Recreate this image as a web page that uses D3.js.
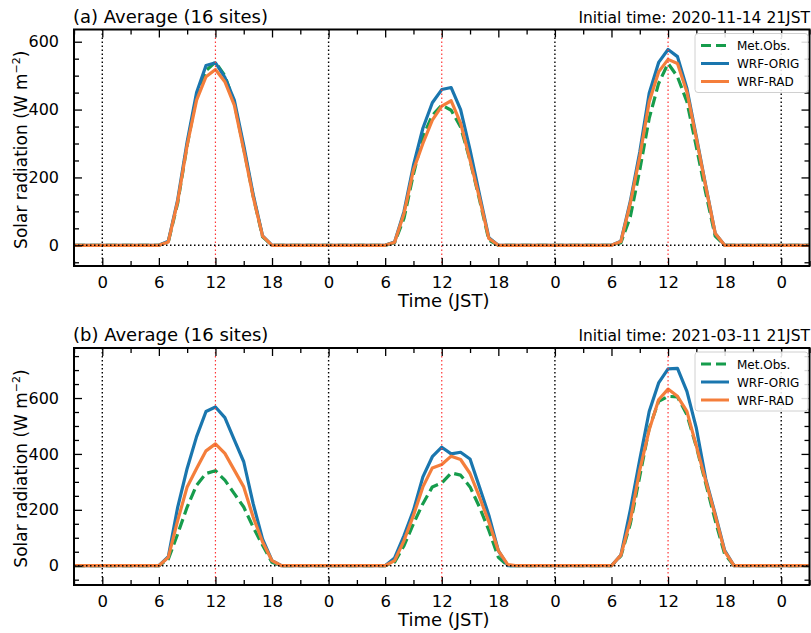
<!DOCTYPE html>
<html><head><meta charset="utf-8">
<script src="https://cdn.jsdelivr.net/npm/d3@7"></script>
<style>body{margin:0;background:#fff}svg text{font-family:"DejaVu Sans",sans-serif}</style>
</head><body>
<svg id="c" width="811" height="633"></svg>
<script>
// hours since 00 JST of first day (initial time 21 JST = -3)
const hours = [-3,-2,-1,0,1,2,3,4,5,6,7,8,9,10,11,12,13,14,15,16,17,18,19,20,21,22,23,
 24,25,26,27,28,29,30,31,32,33,34,35,36,37,38,39,40,41,42,43,44,45,46,47,
 48,49,50,51,52,53,54,55,56,57,58,59,60,61,62,63,64,65,66,67,68,69,70,71,
 72,73,74,75];
// Panel (a) 2020-11-14
const obsA  = [0,0,0, 0,0,0,0,0,0,0,10,125,295,440,515,540,500,420,285,145,25,0,0,0,0,0,0,
 0,0,0,0,0,0,0,8,80,210,320,383,413,398,349,250,135,15,0,0,0,0,0,0,
 0,0,0,0,0,0,0,8,84,222,374,477,536,497,423,290,154,27,0,0,0,0,0,0,
 0,0,0,0];
const origA = [0,0,0, 0,0,0,0,0,0,0,12,135,305,450,530,538,495,428,295,150,28,0,0,0,0,0,0,
 0,0,0,0,0,0,0,10,100,236,345,420,459,465,400,281,150,22,0,0,0,0,0,0,
 0,0,0,0,0,0,0,12,130,275,448,539,577,556,462,320,175,35,0,0,0,0,0,0,
 0,0,0,0];
const radA  = [0,0,0, 0,0,0,0,0,0,0,10,130,295,428,497,518,482,413,281,143,27,0,0,0,0,0,0,
 0,0,0,0,0,0,0,9,94,222,300,369,410,426,360,251,140,20,0,0,0,0,0,0,
 0,0,0,0,0,0,0,11,124,261,423,511,548,536,452,315,173,35,0,0,0,0,0,0,
 0,0,0,0];
// Panel (b) 2021-03-11
const obsB  = [0,0,0, 0,0,0,0,0,0,0,23,114,210,288,330,340,306,258,210,138,73,12,0,0,0,0,0,
 0,0,0,0,0,0,0,13,72,150,222,282,296,332,324,282,210,126,30,0,0,0,0,0,
 0,0,0,0,0,0,0,35,150,320,492,588,606,604,540,426,294,162,42,0,0,0,0,0,
 0,0,0,0];
const origB = [0,0,0, 0,0,0,0,0,0,0,32,210,348,462,552,568,530,450,372,222,95,18,0,0,0,0,0,
 0,0,0,0,0,0,0,28,108,198,318,390,424,400,406,382,282,180,54,0,0,0,0,0,
 0,0,0,0,0,0,0,38,200,380,552,654,704,706,624,492,310,185,55,0,0,0,0,0,
 0,0,0,0];
const radB  = [0,0,0, 0,0,0,0,0,0,0,30,162,282,348,411,436,402,342,282,174,85,18,0,0,0,0,0,
 0,0,0,0,0,0,0,18,90,180,282,350,362,392,380,330,246,156,54,4,0,0,0,0,
 0,0,0,0,0,0,0,38,162,342,486,594,632,606,552,428,303,180,51,0,0,0,0,0,
 0,0,0,0];

const xTicks = [0,6,12,18,24,30,36,42,48,54,60,66,72];
const xTickLabels = ["0","6","12","18","0","6","12","18","0","6","12","18","0"];
const midnights = [0,24,48,72];
const noons = [12,36,60];
const seriesNames = ["Met.Obs.","WRF-ORIG","WRF-RAD"];
const colors = ["#169c4c","#1a76ae","#f47e3b"];

const panels = [
  {title:"(a) Average (16 sites)", init:"Initial time: 2020-11-14 21JST",
   data:[obsA,origA,radA], yDomain:[-61,636], top:29.5, bottom:266},
  {title:"(b) Average (16 sites)", init:"Initial time: 2021-03-11 21JST",
   data:[obsB,origB,radB], yDomain:[-69,779], top:348, bottom:585}
];
const yTicks = [0,200,400,600];
const yMinor = [-50,50,100,150,250,300,350,450,500,550,650,700,750];

const svg = d3.select("#c");
const L = 74, R = 809.5;
const x = d3.scaleLinear().domain([-3,75]).range([L,R]);

panels.forEach(p => {
  const y = d3.scaleLinear().domain(p.yDomain).range([p.bottom,p.top]);
  const g = svg.append("g");
  const clipId = "clip"+p.top;
  g.append("clipPath").attr("id",clipId).append("rect")
    .attr("x",L).attr("y",p.top).attr("width",R-L).attr("height",p.bottom-p.top);
  const plot = g.append("g").attr("clip-path",`url(#${clipId})`);
  const line = d3.line().x((d,i)=>x(hours[i])).y(d=>y(d));
  p.data.forEach((s,k)=>{
    plot.append("path").datum(s).attr("d",line).attr("fill","none")
      .attr("stroke",colors[k]).attr("stroke-width",3.2)
      .attr("stroke-linejoin","round")
      .attr("stroke-dasharray",k===0?"11,5":null);
  });
  // reference lines
  midnights.forEach(h=>plot.append("line").attr("x1",x(h)).attr("x2",x(h))
    .attr("y1",p.top).attr("y2",p.bottom).attr("stroke","#000").attr("stroke-width",1.4)
    .attr("stroke-dasharray","1.5,2.5"));
  noons.forEach(h=>plot.append("line").attr("x1",x(h)).attr("x2",x(h))
    .attr("y1",p.top).attr("y2",p.bottom).attr("stroke","#ff3535").attr("stroke-width",1.2)
    .attr("stroke-dasharray","1.5,2.5"));
  plot.append("line").attr("x1",L).attr("x2",R).attr("y1",y(0)).attr("y2",y(0))
    .attr("stroke","#000").attr("stroke-width",1.4).attr("stroke-dasharray","1.5,2.5");

  // axes with inward ticks
  const minorX = d3.range(-3,76,3).filter(v=>v%6!==0);
  const ax = (sel,gen)=>{sel.call(gen); sel.select(".domain").remove(); return sel;};
  const xb = ax(g.append("g").attr("transform",`translate(0,${p.bottom})`),
    d3.axisBottom(x).tickValues(xTicks).tickSize(-8).tickPadding(10)
      .tickFormat((d,i)=>xTickLabels[i]));
  xb.selectAll("text").attr("font-size",16.5).attr("fill","#000");
  ax(g.append("g").attr("transform",`translate(0,${p.bottom})`),
    d3.axisBottom(x).tickValues(minorX).tickSize(-5).tickFormat(""));
  ax(g.append("g").attr("transform",`translate(0,${p.top})`),
    d3.axisTop(x).tickValues(xTicks).tickSize(-8).tickFormat(""));
  ax(g.append("g").attr("transform",`translate(0,${p.top})`),
    d3.axisTop(x).tickValues(minorX).tickSize(-5).tickFormat(""));
  const yl = ax(g.append("g").attr("transform",`translate(${L},0)`),
    d3.axisLeft(y).tickValues(yTicks).tickSize(-8).tickPadding(15).tickFormat(d3.format("d")));
  yl.selectAll("text").attr("font-size",16).attr("fill","#000");
  ax(g.append("g").attr("transform",`translate(${L},0)`),
    d3.axisLeft(y).tickValues(yMinor.filter(v=>v>p.yDomain[0]&&v<p.yDomain[1])).tickSize(-5).tickFormat(""));
  ax(g.append("g").attr("transform",`translate(${R},0)`),
    d3.axisRight(y).tickValues(yTicks).tickSize(-8).tickFormat(""));
  ax(g.append("g").attr("transform",`translate(${R},0)`),
    d3.axisRight(y).tickValues(yMinor.filter(v=>v>p.yDomain[0]&&v<p.yDomain[1])).tickSize(-5).tickFormat(""));
  g.selectAll(".tick line").attr("stroke","#000").attr("stroke-width",1.3);

  g.append("rect").attr("x",L).attr("y",p.top).attr("width",R-L).attr("height",p.bottom-p.top)
    .attr("fill","none").attr("stroke","#000").attr("stroke-width",2);

  // titles
  g.append("text").attr("x",L-1).attr("y",p.top-7).attr("font-size",18).text(p.title);
  g.append("text").attr("x",810).attr("y",p.top-7).attr("font-size",15.5)
    .attr("text-anchor","end").text(p.init);
  g.append("text").attr("x",(L+R)/2+2).attr("y",p.bottom+41).attr("font-size",18)
    .attr("text-anchor","middle").text("Time (JST)");
  const ylab = g.append("text").attr("transform",`translate(27,${(p.top+p.bottom)/2+2}) rotate(-90)`)
    .attr("font-size",17).attr("text-anchor","middle");
  ylab.append("tspan").text("Solar radiation (W m");
  ylab.append("tspan").attr("font-size",11).attr("dy",-7).text("\u22122");
  ylab.append("tspan").attr("dy",7).text(")");

  // legend
  const lg = g.append("g").attr("transform",`translate(695,${p.top+4})`);
  lg.append("rect").attr("width",113).attr("height",59).attr("rx",3)
    .attr("fill","#fff").attr("fill-opacity",0.85).attr("stroke","#d0d0d0");
  seriesNames.forEach((n,k)=>{
    const yy = 12 + k*18;
    lg.append("line").attr("x1",6).attr("x2",34).attr("y1",yy).attr("y2",yy)
      .attr("stroke",colors[k]).attr("stroke-width",3)
      .attr("stroke-dasharray",k===0?"10,5":null);
    lg.append("text").attr("x",42).attr("y",yy+4.5).attr("font-size",12).text(n);
  });
});
</script>
</body></html>
